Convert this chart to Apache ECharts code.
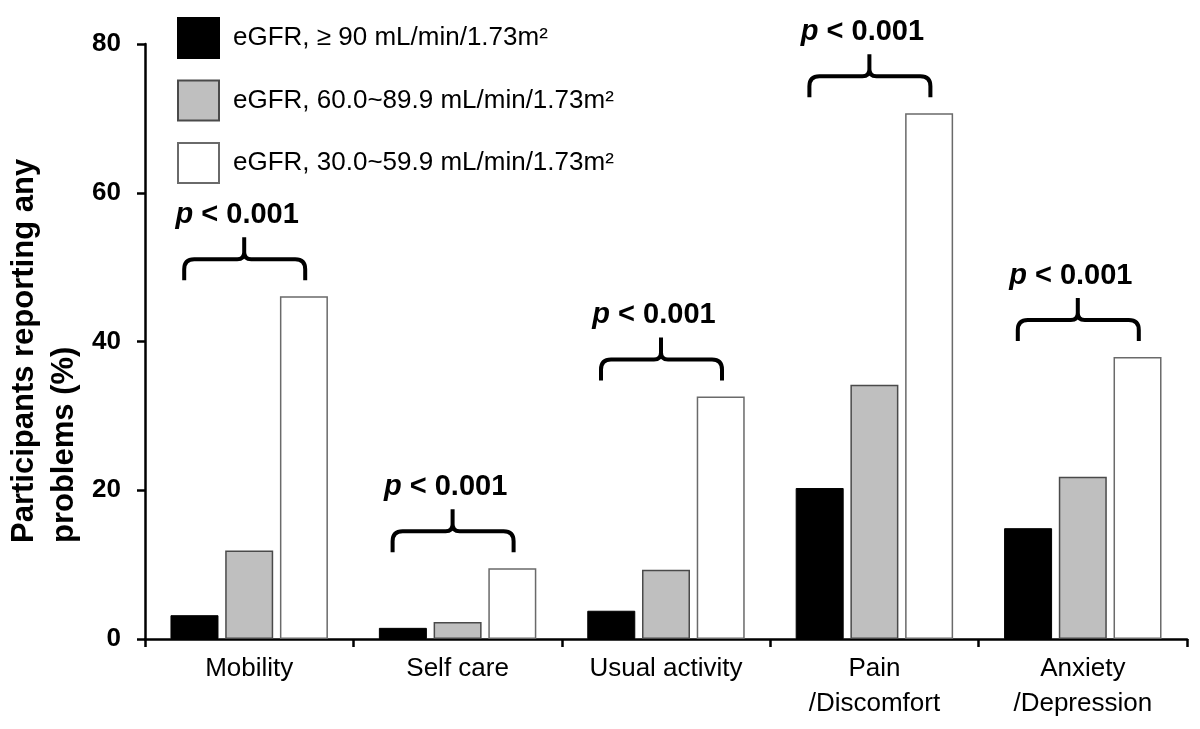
<!DOCTYPE html>
<html>
<head>
<meta charset="utf-8">
<script src="https://cdn.jsdelivr.net/npm/echarts@6/dist/echarts.min.js"></script>
<style>
html,body{margin:0;padding:0;background:#fff;}
#chart{width:1200px;height:729px;}
</style>
</head>
<body>
<div id="chart"></div>
<script>
const categories = ['Mobility', 'Self care', 'Usual activity', 'Pain\n/Discomfort', 'Anxiety\n/Depression'];
const seriesNames = ['eGFR, \u2265 90 mL/min/1.73m\u00B2', 'eGFR, 60.0~89.9 mL/min/1.73m\u00B2', 'eGFR, 30.0~59.9 mL/min/1.73m\u00B2'];
const egfrHigh = [3.2, 1.5, 3.8, 20.3, 14.9];
const egfrMid = [11.9, 2.3, 9.3, 34.2, 21.8];
const egfrLow = [46.1, 9.5, 32.6, 70.7, 37.9];
const pValueText = ['< 0.001', '< 0.001', '< 0.001', '< 0.001', '< 0.001'];
const yMin = 0, yMax = 80, yInterval = 20;
const yAxisTitle = 'Participants reporting any\nproblems (%)';

const FONT = 'Liberation Sans, Arial, Helvetica, sans-serif';

const braceData = categories.map((c, i) => [i, Math.max(egfrHigh[i], egfrMid[i], egfrLow[i])]);

const chart = echarts.init(document.getElementById('chart'), null, {renderer: 'canvas'});

const option = {
  animation: false,
  backgroundColor: '#fff',
  grid: {left: 145, right: 13, top: 44, bottom: 90, containLabel: false},
  legend: {
    orient: 'vertical',
    left: 177, top: 17,
    padding: 0,
    itemWidth: 41, itemHeight: 40, itemGap: 20.5,
    icon: 'rect',
    selectedMode: false,
    data: seriesNames,
    textStyle: {fontFamily: FONT, fontSize: 26, color: '#000', padding: [0, 0, 0, 9]}
  },
  xAxis: {
    type: 'category',
    data: categories,
    axisLine: {lineStyle: {color: '#000', width: 2.5}},
    axisTick: {show: true, length: 8, lineStyle: {color: '#000', width: 2.5}, alignWithLabel: false, interval: 0},
    axisLabel: {fontFamily: FONT, fontSize: 26, color: '#000', lineHeight: 35, margin: 12, interval: 0}
  },
  yAxis: {
    type: 'value',
    min: yMin, max: yMax, interval: yInterval,
    splitLine: {show: false},
    axisLine: {show: true, lineStyle: {color: '#000', width: 2.5}},
    axisTick: {show: true, length: 8, lineStyle: {color: '#000', width: 2.5}},
    axisLabel: {fontFamily: FONT, fontSize: 26, fontWeight: 'bold', color: '#000', margin: 24}
  },
  graphic: [{
    type: 'text',
    x: 4, y: 543,
    rotation: Math.PI / 2,
    style: {
      text: yAxisTitle,
      font: 'bold 31px ' + FONT,
      textAlign: 'left', align: 'left',
      textVerticalAlign: 'top', verticalAlign: 'top',
      lineHeight: 40,
      fill: '#000'
    }
  }],
  series: [
    {
      name: seriesNames[0], type: 'bar', data: egfrHigh,
      barWidth: 48, barGap: '14%',
      itemStyle: {color: '#000', borderColor: '#000', borderWidth: 1}
    },
    {
      name: seriesNames[1], type: 'bar', data: egfrMid,
      barWidth: 48, barGap: '14%',
      itemStyle: {color: '#bfbfbf', borderColor: '#4a4a4a', borderWidth: 1.5}
    },
    {
      name: seriesNames[2], type: 'bar', data: egfrLow,
      barWidth: 48, barGap: '14%',
      itemStyle: {color: '#fff', borderColor: '#6a6a6a', borderWidth: 1.5}
    },
    {
      type: 'custom',
      coordinateSystem: 'cartesian2d',
      data: braceData,
      encode: {x: 0, y: 1},
      clip: false,
      z: 10,
      silent: true,
      renderItem: function (params, api) {
        const idx = api.value(0);
        const top = api.coord([idx, api.value(1)]);
        const x0 = top[0];
        const yb = top[1] - 16;
        const yh = yb - 21;
        const ys = yh - 22;
        const L = x0 - 65, R = x0 + 56, M = x0 - 5;
        const r = 10, s = 7;
        const d = 'M' + L + ',' + yb + ' L' + L + ',' + (yh + r) +
          ' Q' + L + ',' + yh + ' ' + (L + r) + ',' + yh +
          ' L' + (M - s) + ',' + yh +
          ' Q' + M + ',' + yh + ' ' + M + ',' + (yh - s) +
          ' L' + M + ',' + ys +
          ' M' + M + ',' + (yh - s) +
          ' Q' + M + ',' + yh + ' ' + (M + s) + ',' + yh +
          ' L' + (R - r) + ',' + yh +
          ' Q' + R + ',' + yh + ' ' + R + ',' + (yh + r) +
          ' L' + R + ',' + yb;
        return {
          type: 'group',
          children: [
            {
              type: 'path',
              shape: {pathData: d},
              style: {stroke: '#000', lineWidth: 4, fill: null, lineCap: 'butt', lineJoin: 'round'}
            },
            {
              type: 'text',
              x: x0 - 12,
              y: ys - 8,
              style: {
                text: '{i|p} {b|' + pValueText[idx] + '}',
                rich: {
                  i: {fontStyle: 'italic', fontWeight: 'bold', fontSize: 29, fontFamily: FONT, fill: '#000', color: '#000'},
                  b: {fontWeight: 'bold', fontSize: 29, fontFamily: FONT, fill: '#000', color: '#000'}
                },
                fontSize: 29, fontWeight: 'bold', fontFamily: FONT,
                fill: '#000',
                textAlign: 'center', align: 'center',
                textVerticalAlign: 'bottom', verticalAlign: 'bottom'
              }
            }
          ]
        };
      }
    }
  ]
};
chart.setOption(option);
</script>
</body>
</html>
